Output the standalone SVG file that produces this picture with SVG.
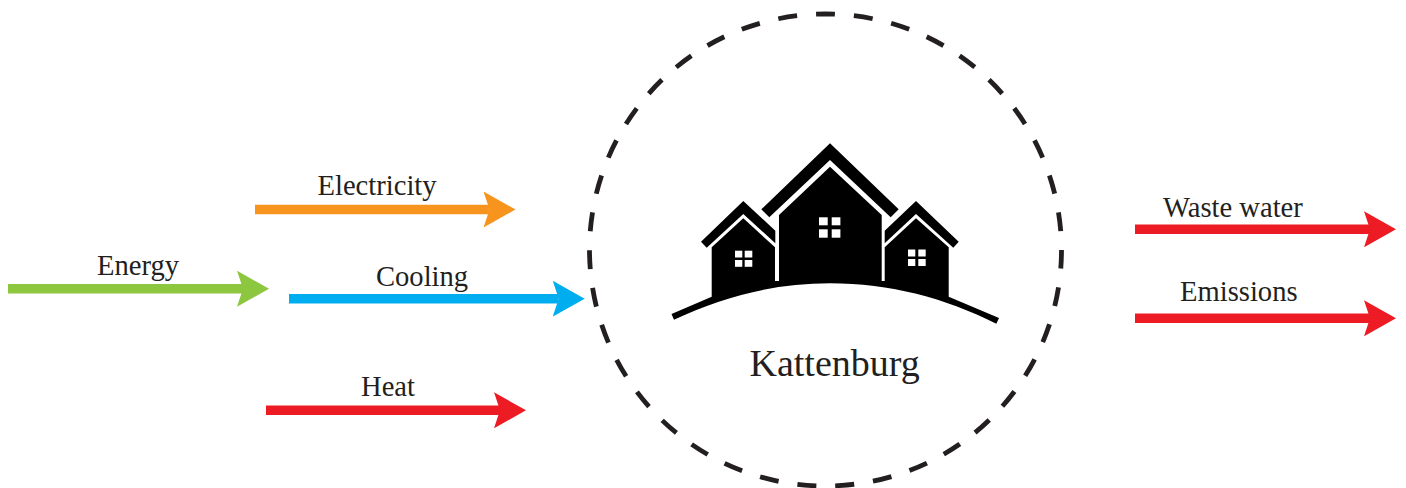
<svg xmlns="http://www.w3.org/2000/svg" width="1406" height="488" viewBox="0 0 1406 488">
<style>
text{font-family:"Liberation Serif","Times New Roman",serif;fill:#231f20;font-size:28.6px}
.sh{stroke-width:9.6;fill:none}
.win{fill:#fff}
</style>
<defs>
<marker id="hO" markerUnits="userSpaceOnUse" markerWidth="32" markerHeight="36" viewBox="0 0 32 36" refX="6" refY="18" orient="auto"><path d="M0,0 L32,18 L0,36 L6,18 Z" fill="#f7941d"/></marker>
<marker id="hB" markerUnits="userSpaceOnUse" markerWidth="32" markerHeight="36" viewBox="0 0 32 36" refX="6" refY="18" orient="auto"><path d="M0,0 L32,18 L0,36 L6,18 Z" fill="#00aeef"/></marker>
<marker id="hG" markerUnits="userSpaceOnUse" markerWidth="32" markerHeight="36" viewBox="0 0 32 36" refX="6" refY="18" orient="auto"><path d="M0,0 L32,18 L0,36 L6,18 Z" fill="#8dc63f"/></marker>
<marker id="hR" markerUnits="userSpaceOnUse" markerWidth="32" markerHeight="36" viewBox="0 0 32 36" refX="6" refY="18" orient="auto"><path d="M0,0 L32,18 L0,36 L6,18 Z" fill="#ed1c24"/></marker>
</defs>
<g id="boundary"><circle cx="825.5" cy="250" r="236" fill="none" stroke="#231f20" stroke-width="4.8" stroke-dasharray="19 19.02" stroke-dashoffset="0.42"/></g>
<g id="houses">
<path fill="#000" d="M830,143.3 L898.7,209.3 L890.7,217.3 L830,160 L769.3,217.3 L761.3,209.3 Z"/>
<path fill="#000" d="M743.3,201 L775.3,230.7 V243.3 L743.3,214 L706.7,247.7 L701,241.7 Z"/>
<path fill="#000" d="M916,201 L884.7,230.7 V243.3 L916,214 L953.3,247.7 L958.7,241.7 Z"/>
<path fill="#000" d="M671.5,314 L711.7,296.7 V247.3 L743.3,218.3 L775,247.3 V281 H779 V215 L830,166.7 L881.7,215 V281 H884.7 V247.3 L916,218.3 L948.7,247.3 V296.7 L999,318 L996.3,323.8 C945,298 890,283.3 830,283.3 C775,283.3 725,296 674,319.8 Z"/>
<rect class="win" x="819" y="217.3" width="8.7" height="8"/><rect class="win" x="831.7" y="217.3" width="8.7" height="8"/><rect class="win" x="819" y="229.3" width="8.7" height="8.4"/><rect class="win" x="831.7" y="229.3" width="8.7" height="8.4"/>
<rect class="win" x="735" y="250.7" width="7.3" height="6.8"/><rect class="win" x="744.7" y="250.7" width="7.6" height="6.8"/><rect class="win" x="735" y="260" width="7.3" height="6.8"/><rect class="win" x="744.7" y="260" width="7.6" height="6.8"/>
<rect class="win" x="908" y="249.5" width="7.3" height="7"/><rect class="win" x="918.3" y="249.5" width="7.4" height="7"/><rect class="win" x="908" y="259" width="7.3" height="7"/><rect class="win" x="918.3" y="259" width="7.4" height="7"/>
</g>
<g id="kattenburg"><text x="749.5" y="376" style="font-size:38px">Kattenburg</text></g>
<g id="connectors">
<line class="sh" x1="255" y1="209.5" x2="489.5" y2="209.5" stroke="#f7941d" marker-end="url(#hO)"/>
<line class="sh" x1="289" y1="298.7" x2="558.7" y2="298.7" stroke="#00aeef" marker-end="url(#hB)"/>
<line class="sh" x1="8" y1="288.7" x2="243" y2="288.7" stroke="#8dc63f" marker-end="url(#hG)"/>
<line class="sh" x1="266" y1="410.3" x2="500" y2="410.3" stroke="#ed1c24" marker-end="url(#hR)"/>
<line class="sh" x1="1135" y1="229.3" x2="1370" y2="229.3" stroke="#ed1c24" marker-end="url(#hR)"/>
<line class="sh" x1="1135" y1="318.3" x2="1370" y2="318.3" stroke="#ed1c24" marker-end="url(#hR)"/>
</g>
<g id="electricity"><text x="317.5" y="195">Electricity</text></g>
<g id="energy"><text x="97" y="275">Energy</text></g>
<g id="cooling"><text x="376" y="286">Cooling</text></g>
<g id="heat"><text x="361" y="396">Heat</text></g>
<g id="waste-water"><text x="1163" y="217">Waste water</text></g>
<g id="emissions"><text x="1180" y="301">Emissions</text></g>
</svg>
